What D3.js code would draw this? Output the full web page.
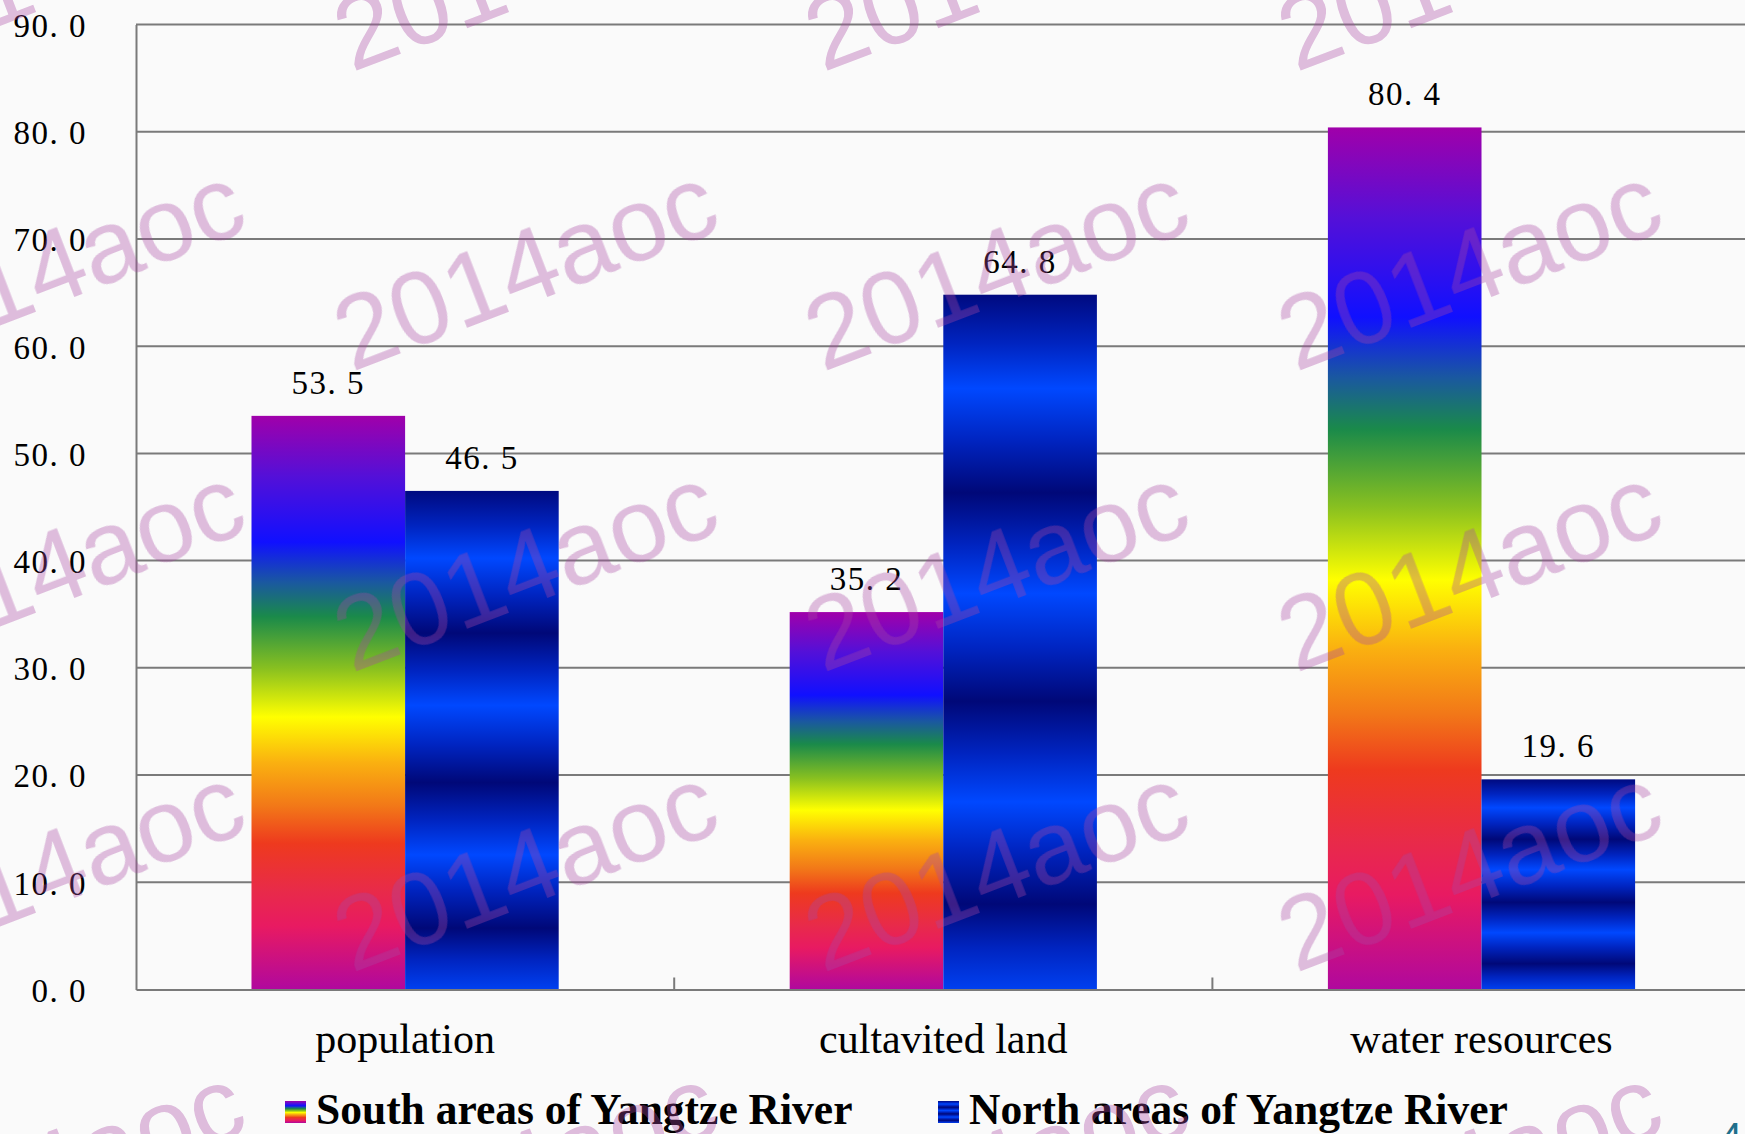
<!DOCTYPE html>
<html>
<head>
<meta charset="utf-8">
<script src="https://cdn.jsdelivr.net/npm/d3@7"></script>
<style>
  body { margin: 0; overflow: hidden; background: #fafafa; }
  text { font-family: "Liberation Serif", "DejaVu Serif", serif; }
</style>
</head>
<body>
<div id="chart"></div>
<script>
var categories = ["population", "cultavited land", "water resources"];
var seriesNames = ["South areas of Yangtze River", "North areas of Yangtze River"];
var southValues = [53.5, 35.2, 80.4];
var northValues = [46.5, 64.8, 19.6];
var yTicks = [0, 10, 20, 30, 40, 50, 60, 70, 80, 90];

var width = 1745;
var height = 1134;
var plot_left = 136;
var plot_right = 1750.6;
var plot_top = 24.5;
var plot_bottom = 989.5;

var svg = d3.select('#chart')
			.append('svg')
			.attr('width', width)
			.attr('height', height);

svg.append('rect')
	.attr('width', width)
	.attr('height', height)
	.attr('fill', '#fafafa');

// gradients
var defs = svg.append('defs');

var rainbow = [
	[0, '#a000aa'], [0.105, '#5410d8'], [0.22, '#1010ff'], [0.29, '#1a58a0'],
	[0.35, '#1a8a4a'], [0.44, '#88c020'], [0.525, '#ffff00'], [0.605, '#fab010'],
	[0.68, '#f27818'], [0.745, '#ee3a1e'], [0.83, '#e82a4a'], [0.89, '#e81a62'],
	[1, '#b0089e']
];
var stripes = [
	[0, '#000a80'], [0.07, '#0024c0'], [0.135, '#0048ff'], [0.21, '#0024c0'],
	[0.285, '#000878'], [0.36, '#0024c0'], [0.43, '#0048ff'], [0.51, '#0024c0'],
	[0.585, '#000878'], [0.66, '#0024c0'], [0.73, '#0048ff'], [0.8, '#0024c0'],
	[0.877, '#000878'], [0.94, '#0024c0'], [1, '#0040f0']
];

function makeGradient(id, stops) {
	var g = defs.append('linearGradient')
				.attr('id', id)
				.attr('x1', 0).attr('y1', 0)
				.attr('x2', 0).attr('y2', 1);
	g.selectAll('stop')
		.data(stops)
		.enter()
		.append('stop')
		.attr('offset', function(d){ return d[0]; })
		.attr('stop-color', function(d){ return d[1]; });
}
makeGradient('south', rainbow);
makeGradient('north', stripes);

//scales
var x0 = d3.scaleBand()
			.domain(categories)
			.range([plot_left, plot_right]);

var gap = x0.bandwidth() * 0.2146;
var x1 = d3.scaleBand()
			.domain([0, 1])
			.range([gap, x0.bandwidth() - gap]);

var y = d3.scaleLinear()
			.domain([0, 90])
			.range([plot_bottom, plot_top]);

//gridlines
svg.append('g')
	.selectAll('line')
	.data(yTicks.slice(1))
	.enter()
	.append('line')
	.attr('x1', plot_left)
	.attr('x2', plot_right)
	.attr('y1', function(d){ return y(d); })
	.attr('y2', function(d){ return y(d); })
	.attr('stroke', '#7a7a7a')
	.attr('stroke-width', 2);

//y axis
var y_axis = d3.axisLeft(y)
				.tickValues(yTicks)
				.tickSize(0)
				.tickPadding(49)
				.tickFormat(function(d){
					return d.toFixed(1).replace('.', '. ');
				});

var yg = svg.append('g')
	.attr('class', 'y-axis')
	.attr('transform', 'translate(' + plot_left + ',0)')
	.call(y_axis);
yg.select('.domain').attr('stroke', '#7a7a7a').attr('stroke-width', 2);
yg.selectAll('text')
	.attr('font-size', 33)
	.attr('fill', '#000')
	.attr('dy', '0.36em')
	.style('font-family', '"Liberation Serif", serif')
	.style('letter-spacing', '1.5px');

//bars
var seriesData = [southValues, northValues];
var ids = ['south', 'north'];

seriesData.forEach(function(vals, si){
	svg.append('g')
		.selectAll('rect')
		.data(vals)
		.enter()
		.append('rect')
		.attr('x', function(d, i){ return x0(categories[i]) + x1(si); })
		.attr('y', function(d){ return y(d); })
		.attr('width', x1.bandwidth())
		.attr('height', function(d){ return y(0) - y(d); })
		.attr('fill', 'url(#' + ids[si] + ')');

	svg.append('g')
		.selectAll('text')
		.data(vals)
		.enter()
		.append('text')
		.text(function(d){ return d.toFixed(1).replace('.', '. '); })
		.attr('x', function(d, i){ return x0(categories[i]) + x1(si) + x1.bandwidth() / 2; })
		.attr('y', function(d){ return y(d) - 22; })
		.attr('text-anchor', 'middle')
		.attr('font-size', 33)
		.style('letter-spacing', '1.5px');
});

//x axis
var x_axis = d3.axisBottom(x0)
				.tickSize(0)
				.tickPadding(0)
				.tickFormat('');
var xg = svg.append('g')
	.attr('class', 'x-axis')
	.attr('transform', 'translate(0,' + plot_bottom + ')')
	.call(x_axis);
xg.select('.domain').attr('stroke', '#7a7a7a').attr('stroke-width', 2);

//category boundary ticks
svg.append('g')
	.selectAll('line')
	.data(categories.slice(1))
	.enter()
	.append('line')
	.attr('x1', function(d){ return x0(d); })
	.attr('x2', function(d){ return x0(d); })
	.attr('y1', plot_bottom - 12)
	.attr('y2', plot_bottom)
	.attr('stroke', '#7a7a7a')
	.attr('stroke-width', 2);

//category labels
svg.append('g')
	.selectAll('text')
	.data(categories)
	.enter()
	.append('text')
	.text(function(d){ return d; })
	.attr('x', function(d){ return x0(d) + x0.bandwidth() / 2; })
	.attr('y', 1053)
	.attr('text-anchor', 'middle')
	.attr('font-size', 42);

//legend
var legendX = [285, 938];
var lg = svg.append('g');
seriesNames.forEach(function(name, i){
	lg.append('rect')
		.attr('x', legendX[i])
		.attr('y', 1101)
		.attr('width', 21)
		.attr('height', 22)
		.attr('fill', 'url(#' + ids[i] + ')');
	lg.append('text')
		.text(name)
		.attr('x', legendX[i] + 31)
		.attr('y', 1124)
		.attr('font-size', 43.5)
		.attr('font-weight', 'bold');
});

//slide number, mostly cut off
svg.append('text')
	.text('4')
	.attr('x', 1720)
	.attr('y', 1151)
	.attr('font-size', 40)
	.attr('fill', '#1f6f8b')
	.style('font-family', '"Liberation Sans", sans-serif');

//watermark
var wmX = [52, 525, 996, 1469];
var wmY = [-33, 267, 568, 868, 1168];
var wm = svg.append('g').attr('opacity', 0.35);
wmY.forEach(function(yy){
	wmX.forEach(function(xx){
		wm.append('text')
			.text('2014aoc')
			.attr('transform', 'translate(' + xx + ',' + yy + ') rotate(-21)')
			.attr('text-anchor', 'middle')
			.attr('dy', '0.35em')
			.attr('font-size', 104)
			.attr('fill', '#a848a4')
			.style('font-family', '"Liberation Sans", Arial, sans-serif');
	});
});
</script>
</body>
</html>
